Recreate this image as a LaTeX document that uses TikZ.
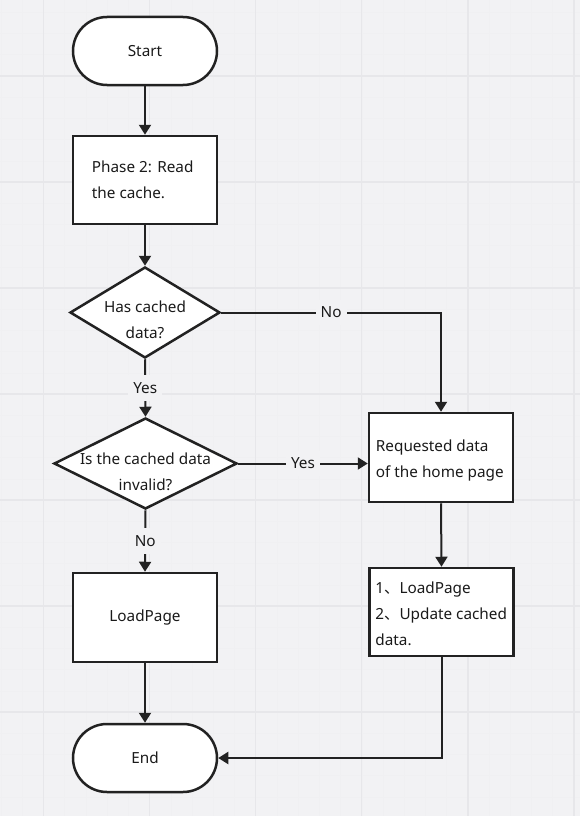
\documentclass[tikz,border=0pt]{standalone}
\usepackage{fontspec}
\setmainfont{Noto Sans}
\newfontfamily\cjk{Noto Sans CJK SC}
\usetikzlibrary{arrows.meta,shapes.geometric}
\definecolor{bgc}{HTML}{F2F2F4}
\definecolor{gridc}{HTML}{E7E7EA}
\definecolor{subc}{HTML}{F0F0F2}
\definecolor{ink}{HTML}{222222}
\definecolor{txt}{HTML}{1A1A1A}
\tikzset{
  base/.style={draw=ink, line width=2.5pt, fill=white, inner sep=0pt},
  term/.style={base, rectangle, rounded corners=34pt, minimum width=144pt, minimum height=68pt},
  procbox/.style={base, rectangle, minimum width=144pt, minimum height=88pt},
  dia/.style={base, diamond},
  txtnode/.style={text=txt, font=\fontsize{15.3}{26}\selectfont, inner sep=0pt},
  arr/.style={draw=ink, line width=2pt, -{Triangle[length=10pt,width=12pt]}},
  lbl/.style={fill=bgc, text=txt, font=\fontsize{15.3}{18}\selectfont, inner xsep=5pt, inner ysep=7pt},
}
\begin{document}
\begin{tikzpicture}[x=1pt,y=-1pt]
\useasboundingbox (0,0) rectangle (580,816);
\fill[bgc] (0,0) rectangle (580,816);
% sub grid
\foreach \i in {-2,...,25} {
  \draw[subc, line width=0.6pt] ({43.5+21.22*\i},0) -- ++(0,816);
}
\foreach \j in {-4,...,35} {
  \draw[subc, line width=0.6pt] (0,{76+21.2*\j}) -- ++(580,0);
}
% major grid
\foreach \i in {0,...,5} {
  \draw[gridc, line width=1.3pt] ({43.5+106.1*\i},0) -- ++(0,816);
}
\foreach \j in {0,...,6} {
  \draw[gridc, line width=1.3pt] (0,{76+106*\j}) -- ++(580,0);
}

% nodes
\node[term] (start) at (145,51) {};
\node[txtnode] (starttxt) at (start) {Start};

\node[procbox] (phase) at (145,180) {};
\node[txtnode, align=left, anchor=west] (phasetxt) at ([xshift=20pt]phase.west) {Phase 2: Read\\the cache.};

\node[dia, minimum width=150pt, minimum height=91pt] (d1) at (145,312.5) {};
\node[txtnode, align=center] (d1txt) at (145,320) {Has cached\\data?};

\node[dia, minimum width=183pt, minimum height=91pt] (d2) at (145.5,463.5) {};
\node[txtnode, align=center] (d2txt) at (145.5,472) {Is the cached data\\invalid?};

\node[procbox, minimum height=89pt] (req) at (441,457.5) {};
\node[txtnode, align=left, anchor=west] (reqtxt) at ([xshift=8pt,yshift=-3pt]req.west) {Requested data\\of the home page};

\node[procbox] (upd) at (441.5,612) {};
\node[txtnode, align=left, anchor=west] (updtxt) at ([xshift=7pt,yshift=-2pt]upd.west) {1{\cjk 、}LoadPage\\2{\cjk 、}Update cached\\data.};

\node[procbox, minimum height=89pt] (load) at (145,617.5) {};
\node[txtnode] (loadtxt) at (load) {LoadPage};

\node[term] (end) at (145,758) {};
\node[txtnode] (endtxt) at (end) {End};

% connectors
\draw[arr] (start.south) -- (phase.north);
\draw[arr] (phase.south) -- (d1.north);
\draw[arr] (d1.south) -- node[lbl] {Yes} (d2.north);
\draw[arr] (d1.east) -| node[lbl, pos=0.25] {No} (req.north);
\draw[arr] (d2.east) -- node[lbl] {Yes} (req.west |- d2.east);
\draw[arr] (d2.south) -- node[lbl] {No} (load.north);
\draw[arr] (req.south) -- (upd.north);
\draw[arr] (load.south) -- (end.north);
\draw[arr] (upd.south) |- (end.east);
\end{tikzpicture}
\end{document}
